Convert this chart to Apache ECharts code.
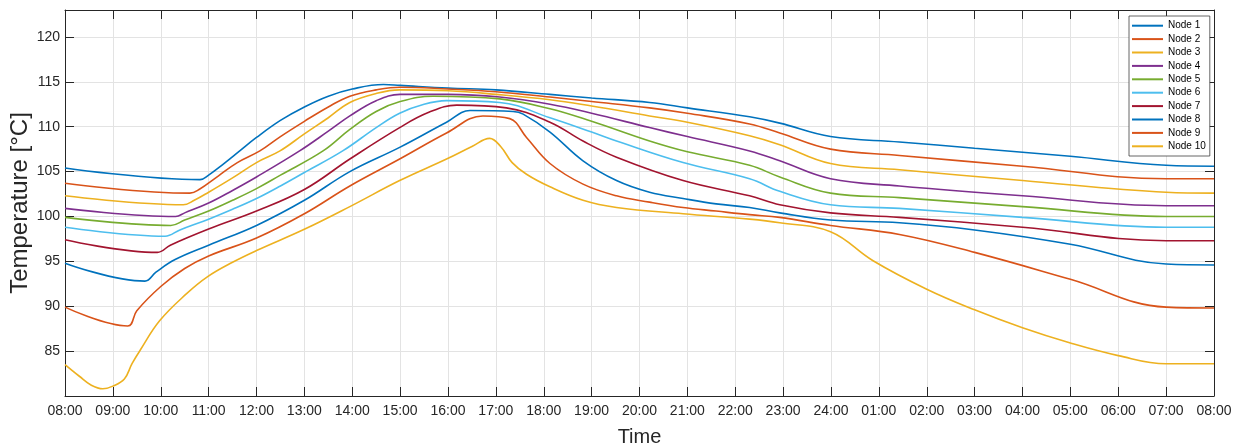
<!DOCTYPE html>
<html>
<head>
<meta charset="utf-8">
<script src="https://cdn.jsdelivr.net/npm/echarts@6/dist/echarts.min.js"></script>
<style>
html,body{margin:0;padding:0;background:#fff;}
#chart{width:1242px;height:447px;}
</style>
</head>
<body>
<div id="chart"></div>
<script>
// Hours after 08:00 (0..24)
const timeLabels = ['08:00','09:00','10:00','11:00','12:00','13:00','14:00','15:00','16:00','17:00','18:00','19:00','20:00','21:00','22:00','23:00','24:00','01:00','02:00','03:00','04:00','05:00','06:00','07:00','08:00'];
const nodeNames = ['Node 1','Node 2','Node 3','Node 4','Node 5','Node 6','Node 7','Node 8','Node 9','Node 10'];
const nodeColors = ['#0072BD','#D95319','#EDB120','#7E2F8E','#77AC30','#4DBEEE','#A2142F','#0072BD','#D95319','#EDB120'];

const node1 = [[0,105.4],[2.82,104.1],[3.0,104.6],[3.3,105.8],[3.65,107.3],[4,108.8],[4.5,110.7],[5,112.2],[5.5,113.4],[6,114.2],[6.65,114.7],[7,114.6],[8,114.3],[9,114.1],[10.13,113.6],[11,113.2],[12.21,112.7],[13,112.1],[14.3,111.1],[14.93,110.4],[15.99,108.9],[17.43,108.3],[19,107.6],[21,106.7],[23,105.7],[24,105.6]];
const node2 = [[0,103.7],[2.61,102.6],[2.8,103.0],[3.2,104.5],[3.6,106.0],[4.07,107.3],[4.5,108.9],[5,110.6],[5.5,112.2],[5.95,113.4],[6.5,114.1],[7,114.4],[8,114.2],[9,113.9],[10.13,113.3],[11,112.8],[12.21,112.1],[13,111.5],[14.3,110.3],[14.93,109.3],[15.99,107.5],[17.43,106.8],[20,105.6],[23,104.2],[24,104.2]];
const node3 = [[0,102.3],[2.47,101.3],[2.7,101.8],[3.0,102.7],[3.5,104.3],[4.0,106.0],[4.49,107.3],[5,109.2],[5.5,111.0],[5.95,112.7],[6.5,113.7],[6.99,114.1],[8,114.0],[9,113.6],[10.13,113.0],[11,112.3],[12.21,111.2],[13,110.5],[14.3,109.0],[14.93,108.0],[15.99,105.9],[17.43,105.2],[20,104.0],[23,102.7],[24,102.6]];
const node4 = [[0,100.9],[2.31,100.0],[2.5,100.4],[3.0,101.5],[3.5,102.9],[4.0,104.4],[4.9,107.3],[5.5,109.5],[5.95,111.2],[6.5,112.9],[7,113.6],[8,113.6],[9.08,113.3],[10.13,112.5],[11,111.5],[12.21,109.9],[13,108.9],[14.3,107.3],[14.93,106.2],[15.99,104.2],[17.43,103.4],[20,102.3],[23,101.2],[24,101.2]];
const node5 = [[0,99.9],[2.21,99.0],[2.5,99.6],[3,100.6],[3.5,101.8],[4,103.1],[4.5,104.6],[5.39,107.3],[5.95,109.7],[6.5,111.7],[7,112.8],[7.69,113.4],[9.08,113.1],[10.13,112.0],[11,110.6],[12.21,108.4],[13,107.2],[14.3,105.7],[14.93,104.4],[15.99,102.6],[17.43,102.1],[20,101.1],[23,100.0],[24,100.0]];
const node6 = [[0,98.8],[2.09,97.8],[2.4,98.5],[3,99.7],[3.5,100.8],[4,102.0],[4.5,103.4],[5,104.9],[5.8,107.3],[6.5,109.9],[6.99,111.5],[7.5,112.5],[7.97,112.9],[9.08,112.7],[10.13,111.0],[11,109.4],[11.52,108.4],[12.91,106.0],[14.3,104.2],[14.93,102.8],[15.99,101.3],[17.43,100.9],[20,99.9],[23,98.8],[24,98.8]];
const node7 = [[0,97.4],[1.93,96.0],[2.2,96.8],[3,98.6],[4,100.6],[5,103.0],[5.95,106.4],[6.99,109.9],[7.6,111.6],[8.18,112.4],[9.22,112.1],[10.13,110.5],[10.82,108.4],[11.52,106.6],[12.91,104.0],[14.3,102.3],[14.93,101.3],[15.99,100.4],[17.43,99.9],[20,98.8],[23,97.3],[24,97.3]];
const node8 = [[0,94.8],[1.67,92.8],[1.9,93.8],[2.3,95.2],[3,96.8],[4,99.0],[5,101.8],[5.95,105.0],[6.99,107.7],[7.97,110.5],[8.46,111.8],[9.36,111.7],[9.57,111.4],[10.13,109.4],[10.82,106.2],[11.52,104.0],[12.21,102.7],[12.91,102.0],[13.6,101.4],[14.3,101.0],[14.93,100.4],[15.99,99.6],[17.43,99.3],[19,98.5],[21,96.9],[23,94.7],[24,94.6]];
const node9 = [[0,89.9],[1.31,87.8],[1.5,89.5],[2,92.2],[2.5,94.2],[3,95.6],[4,97.6],[5,100.3],[5.95,103.4],[6.99,106.4],[7.97,109.3],[8.73,111.2],[9.29,110.9],[9.64,108.8],[10.13,105.9],[10.82,103.6],[11.52,102.3],[12.21,101.6],[12.91,101.0],[13.6,100.6],[14.3,100.2],[14.93,99.9],[15.99,99.0],[17.43,98.0],[19,96.0],[21,93.0],[23,89.9],[24,89.8]];
const node10 = [[0,83.5],[0.3,82.2],[0.55,81.2],[0.79,80.8],[1.0,81.1],[1.24,81.9],[1.4,83.6],[1.57,85.1],[1.98,88.4],[2.54,91.4],[2.98,93.3],[3.5,94.9],[4.0,96.2],[5.01,98.6],[5.95,101.1],[6.99,104.0],[7.97,106.4],[8.5,107.8],[8.87,108.7],[9.1,107.8],[9.34,106.0],[9.64,104.7],[10.13,103.3],[10.82,101.8],[11.52,101.0],[12.91,100.3],[14.3,99.7],[14.93,99.3],[15.99,98.3],[16.87,95.1],[18,91.9],[19,89.6],[20,87.6],[21,85.9],[22,84.5],[23,83.6],[24,83.6]];
const nodeData = [node1,node2,node3,node4,node5,node6,node7,node8,node9,node10];

const FONT = '"Liberation Sans", Arial, sans-serif';
const AX = '#262626';
const chart = echarts.init(document.getElementById('chart'), null, {renderer:'canvas'});

const series = nodeNames.map((n,i)=>({
  name:n, type:'line', data:nodeData[i], showSymbol:false, smooth:0.4,
  lineStyle:{width:1.6,color:nodeColors[i]}, itemStyle:{color:nodeColors[i]}, xAxisIndex:0, yAxisIndex:0
}));

chart.setOption({
  animation:false,
  backgroundColor:'#fff',
  textStyle:{fontFamily:FONT},
  grid:{left:65,right:28,top:10,bottom:51,containLabel:false,outerBoundsMode:'none'},
  legend:{
    orient:'vertical', left:1129, top:16, data:nodeNames,
    icon:'rect', itemWidth:31, itemHeight:2, itemGap:0,
    backgroundColor:'#fff', borderColor:'#404040', borderWidth:0.8, borderRadius:0,
    padding:[3,4,3,3],
    textStyle:{fontFamily:FONT,fontSize:10,color:'#000',lineHeight:13.4}
  },
  xAxis:[{
    type:'value', min:0, max:24, interval:1, position:'bottom',
    name:'Time', nameLocation:'middle', nameGap:31, nameMoveOverlap:false,
    nameTextStyle:{fontFamily:FONT,fontSize:20,color:AX},
    axisLine:{show:true,lineStyle:{color:AX,width:1}},
    axisTick:{show:true,inside:true,length:9,lineStyle:{color:AX}},
    axisLabel:{fontFamily:FONT,fontSize:14,color:AX,margin:8,formatter:v=>timeLabels[Math.round(v)]},
    splitLine:{show:true,lineStyle:{color:'#e3e3e3',width:1}}
  },{
    type:'value', min:0, max:24, interval:1, position:'top',
    axisLine:{show:true,onZero:false,lineStyle:{color:AX,width:1}},
    axisTick:{show:true,inside:true,length:9,lineStyle:{color:AX}},
    axisLabel:{show:false}, splitLine:{show:false}
  }],
  yAxis:[{
    type:'value', min:80, max:123, interval:5, position:'left',
    name:'Temperature [°C]', nameLocation:'middle', nameGap:33, nameMoveOverlap:false,
    nameTextStyle:{fontFamily:FONT,fontSize:24,color:AX},
    axisLine:{show:true,lineStyle:{color:AX,width:1}},
    axisTick:{show:true,inside:true,length:9,lineStyle:{color:AX}},
    axisLabel:{fontFamily:FONT,fontSize:14,color:AX,margin:5,showMinLabel:false,showMaxLabel:false,
      formatter:v=>(v%5===0 && v>80 && v<=120)?String(v):''},
    splitLine:{show:true,lineStyle:{color:'#e3e3e3',width:1}}
  },{
    type:'value', min:80, max:123, interval:5, position:'right',
    axisLine:{show:true,onZero:false,lineStyle:{color:AX,width:1}},
    axisTick:{show:true,inside:true,length:9,lineStyle:{color:AX}},
    axisLabel:{show:false}, splitLine:{show:false}
  }],
  series:series
});
</script>
</body>
</html>
